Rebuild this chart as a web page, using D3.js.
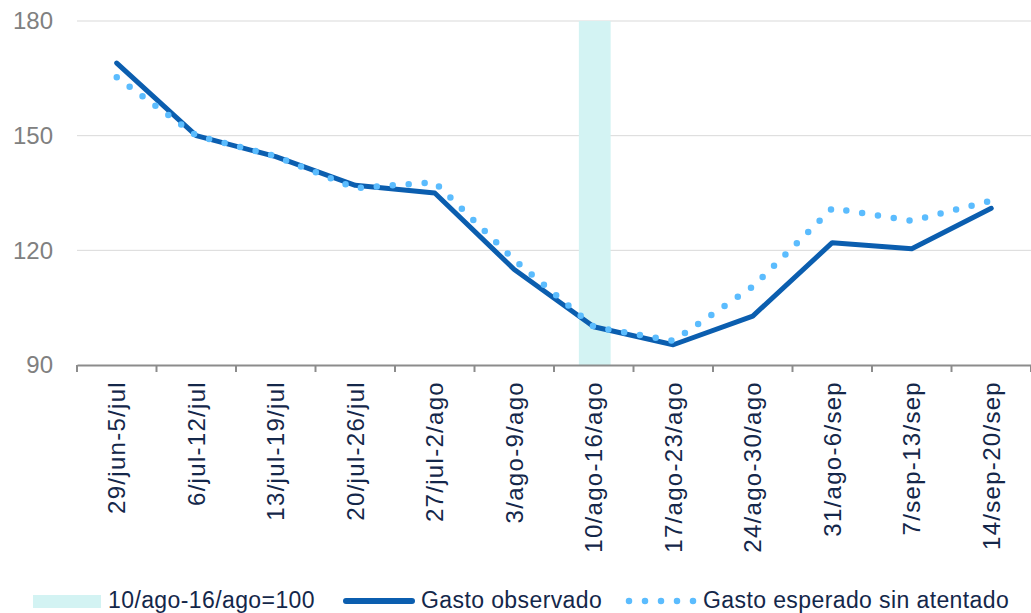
<!DOCTYPE html>
<html>
<head>
<meta charset="utf-8">
<script src="https://cdn.jsdelivr.net/npm/d3@7"></script>
<style>
  html, body { margin: 0; padding: 0; background: #fff; }
  svg { display: block; font-family: "Liberation Sans", Arial, sans-serif; }
</style>
</head>
<body>
<svg id="chart" width="1031" height="613"></svg>
<script>
// Weekly spending index (week of 10/ago-16/ago = 100)
const categories = [
  "29/jun-5/jul", "6/jul-12/jul", "13/jul-19/jul", "20/jul-26/jul",
  "27/jul-2/ago", "3/ago-9/ago", "10/ago-16/ago", "17/ago-23/ago",
  "24/ago-30/ago", "31/ago-6/sep", "7/sep-13/sep", "14/sep-20/sep"
];
const observed = [169, 150, 144.5, 137, 135, 115, 100, 95.3, 102.8, 122, 120.4, 131];
const expected = [165.3, 150, 144.6, 136.3, 137.8, 117.5, 100, 96.3, 110.5, 131, 127.7, 133];
const yTicks = [90, 120, 150, 180];
const baseWeek = "10/ago-16/ago";
const legendLabels = ["10/ago-16/ago=100", "Gasto observado", "Gasto esperado sin atentado"];

const colors = { band: "#d3f3f3", observed: "#0b5eaf", expected: "#5bbcfe",
                 grid: "#d9d9d9", axis: "#8c8c8c", yText: "#808080", text: "#14274a" };

const svg = d3.select("#chart");
const margin = { left: 77, right: 0, top: 21, bottom: 248 };
const W = 1031, H = 613;

const x = d3.scaleBand().domain(categories).range([margin.left, W - margin.right]).padding(0);
const y = d3.scaleLinear().domain([90, 180]).range([H - margin.bottom, margin.top]);
const cx = d => x(d) + x.bandwidth() / 2;

// gridlines
svg.append("g").selectAll("line")
  .data(yTicks.filter(v => v !== 90))
  .join("line")
  .attr("x1", margin.left).attr("x2", W - margin.right)
  .attr("y1", d => y(d)).attr("y2", d => y(d))
  .attr("stroke", colors.grid).attr("stroke-width", 1);

// base-week highlight
const bandW = x.bandwidth() * 0.4;
svg.append("rect")
  .attr("x", cx(baseWeek) - bandW / 2 + 1)
  .attr("y", y(180))
  .attr("width", bandW)
  .attr("height", y(90) - y(180))
  .attr("fill", colors.band);

// y axis labels
const yAxis = svg.append("g")
  .attr("transform", `translate(${margin.left},0)`)
  .call(d3.axisLeft(y).tickValues(yTicks).tickSize(0).tickPadding(24));
yAxis.select(".domain").remove();
yAxis.selectAll("text")
  .attr("fill", colors.yText)
  .style("font-size", "24px")
  .style("font-family", "'Liberation Sans', Arial, sans-serif");

// x axis: line, boundary ticks, rotated labels
const xAxis = svg.append("g")
  .attr("transform", `translate(0,${y(90)})`)
  .call(d3.axisBottom(x).tickSize(0).tickPadding(0));
xAxis.select(".domain").attr("stroke", colors.axis).attr("stroke-width", 2);
xAxis.selectAll(".tick text")
  .attr("fill", colors.text)
  .style("font-size", "24px")
  .style("letter-spacing", "1.3px")
  .style("font-family", "'Liberation Sans', Arial, sans-serif")
  .attr("text-anchor", "end")
  .attr("dominant-baseline", "central")
  .attr("transform", "translate(0,16) rotate(-90)")
  .attr("x", 0).attr("y", 0).attr("dy", null);

const bounds = categories.map(c => x(c)).concat([x(categories[categories.length - 1]) + x.step()]);
xAxis.append("g").selectAll("line")
  .data(bounds)
  .join("line")
  .attr("x1", d => d).attr("x2", d => d)
  .attr("y1", 0).attr("y2", 7)
  .attr("stroke", colors.axis).attr("stroke-width", 2);

// series
const line = d3.line().x((d, i) => cx(categories[i])).y(d => y(d));

svg.append("path")
  .datum(observed)
  .attr("d", line)
  .attr("fill", "none")
  .attr("stroke", colors.observed)
  .attr("stroke-width", 5)
  .attr("stroke-linejoin", "round")
  .attr("stroke-linecap", "round");

svg.append("path")
  .datum(expected)
  .attr("d", line)
  .attr("fill", "none")
  .attr("stroke", colors.expected)
  .attr("stroke-width", 6.5)
  .attr("stroke-linecap", "round")
  .attr("stroke-dasharray", "0 16");

// legend
const lg = svg.append("g").style("font-size", "23px").style("letter-spacing", "0.4px").attr("fill", colors.text);
lg.append("rect").attr("x", 33).attr("y", 595).attr("width", 68).attr("height", 13).attr("fill", colors.band);
lg.append("text").attr("x", 108).attr("y", 608).text(legendLabels[0]);
lg.append("line").attr("x1", 346).attr("x2", 412).attr("y1", 601).attr("y2", 601)
  .attr("stroke", colors.observed).attr("stroke-width", 6).attr("stroke-linecap", "round");
lg.append("text").attr("x", 421).attr("y", 608).text(legendLabels[1]);
lg.append("line").attr("x1", 629).attr("x2", 694).attr("y1", 601).attr("y2", 601)
  .attr("stroke", colors.expected).attr("stroke-width", 6.5)
  .attr("stroke-linecap", "round").attr("stroke-dasharray", "0 16");
lg.append("text").attr("x", 703).attr("y", 608).text(legendLabels[2]);
</script>
</body>
</html>
